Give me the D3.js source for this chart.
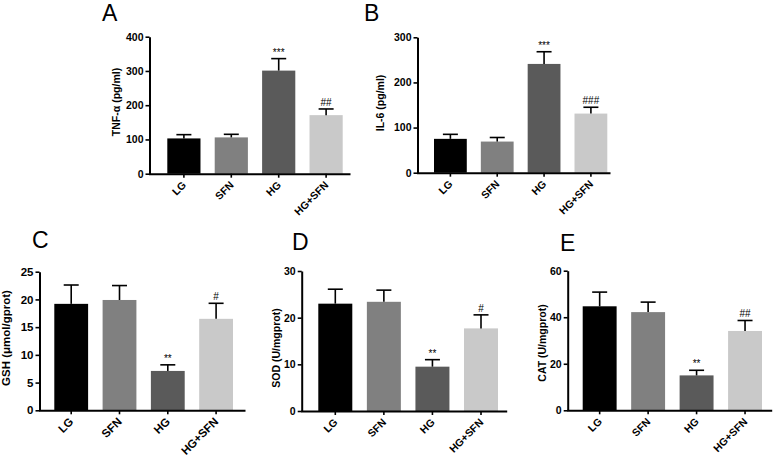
<!DOCTYPE html>
<html>
<head>
<meta charset="utf-8">
<script src="https://cdn.jsdelivr.net/npm/d3@7"></script>
<style>
  html, body { margin: 0; padding: 0; background: #fff; }
  svg { display: block; }
  text { font-family: "Liberation Sans", Arial, sans-serif; }
</style>
</head>
<body>
<svg id="chart" width="779" height="456"></svg>
<script>
// ---- data ----
const categories = ["LG", "SFN", "HG", "HG+SFN"];
const barColors = ["#000000", "#808080", "#5a5a5a", "#c9c9c9"];

const tnfMean = [103, 106, 301, 171];
const tnfErr  = [11, 9, 35, 18];
const il6Mean = [75, 69, 241, 131];
const il6Err  = [10, 9, 27, 14];
const gshMean = [19.2, 19.9, 7.1, 16.5];
const gshErr  = [3.4, 2.6, 1.1, 2.8];
const sodMean = [23.0, 23.4, 9.5, 17.7];
const sodErr  = [3.1, 2.5, 1.5, 2.9];
const catMean = [44.7, 42.2, 15.0, 34.1];
const catErr  = [6.1, 4.3, 2.2, 4.5];

const tnfTicks = [0, 100, 200, 300, 400];
const il6Ticks = [0, 100, 200, 300];
const gshTicks = [0, 5, 10, 15, 20, 25];
const sodTicks = [0, 10, 20, 30];
const catTicks = [0, 20, 40, 60];

const tnfSig = ["", "", "***", "##"];
const il6Sig = ["", "", "***", "###"];
const gshSig = ["", "", "**", "#"];
const sodSig = ["", "", "**", "#"];
const catSig = ["", "", "**", "##"];

// ---- layout ----
const panels = [
  { letter: "A", title: "TNF-\u03b1 (pg/ml)", mean: tnfMean, err: tnfErr, ticks: tnfTicks, sig: tnfSig,
    axisX: 149.5, axisEnd: 350, y0: 173.7, yTop: 36.7, bars: [167.3, 342.7],
    letterX: 102, letterY: 21, titleX: 117, titleY: 102, tickFs: 10.5, titleFs: 10.5 },
  { letter: "B", title: "IL-6 (pg/ml)", mean: il6Mean, err: il6Err, ticks: il6Ticks, sig: il6Sig,
    axisX: 417.5, axisEnd: 610, y0: 172.7, yTop: 37.3, bars: [434, 607.3],
    letterX: 364, letterY: 21, titleX: 381, titleY: 103, tickFs: 10.5, titleFs: 10.5 },
  { letter: "C", title: "GSH (\u03bcmol/gprot)", mean: gshMean, err: gshErr, ticks: gshTicks, sig: gshSig,
    axisX: 39.5, axisEnd: 245, y0: 410.3, yTop: 271.7, bars: [54.3, 233],
    letterX: 32, letterY: 248, titleX: 7, titleY: 338, tickFs: 11.5, titleFs: 11.5 },
  { letter: "D", title: "SOD (U/mgprot)", mean: sodMean, err: sodErr, ticks: sodTicks, sig: sodSig,
    axisX: 301.7, axisEnd: 506.7, y0: 411, yTop: 271, bars: [318.3, 498],
    letterX: 292, letterY: 250, titleX: 277, titleY: 348, tickFs: 10.5, titleFs: 10.5 },
  { letter: "E", title: "CAT (U/mgprot)", mean: catMean, err: catErr, ticks: catTicks, sig: catSig,
    axisX: 567.7, axisEnd: 771.7, y0: 410.3, yTop: 270.7, bars: [582.7, 762],
    letterX: 560, letterY: 251, titleX: 543, titleY: 343, tickFs: 10.5, titleFs: 10.5 }
];

const svg = d3.select("#chart");

panels.forEach(p => {
  const g = svg.append("g");
  const maxV = p.ticks[p.ticks.length - 1];
  const y = d3.scaleLinear().domain([0, maxV]).range([p.y0, p.yTop]);
  const x = d3.scaleBand().domain(categories).range(p.bars).paddingInner(0.3).paddingOuter(0);
  const bw = x.bandwidth();

  // bars
  g.selectAll("rect.bar").data(categories).enter().append("rect")
    .attr("x", d => x(d))
    .attr("y", (d, i) => y(p.mean[i]))
    .attr("width", bw)
    .attr("height", (d, i) => p.y0 - y(p.mean[i]))
    .attr("fill", (d, i) => barColors[i]);

  // error bars (upper only)
  const eg = g.selectAll("g.err").data(categories).enter().append("g");
  eg.append("line")
    .attr("x1", d => x(d) + bw / 2).attr("x2", d => x(d) + bw / 2)
    .attr("y1", (d, i) => y(p.mean[i])).attr("y2", (d, i) => y(p.mean[i] + p.err[i]))
    .attr("stroke", "#000").attr("stroke-width", 1.6);
  eg.append("line")
    .attr("x1", d => x(d) + bw / 2 - 7.5).attr("x2", d => x(d) + bw / 2 + 7.5)
    .attr("y1", (d, i) => y(p.mean[i] + p.err[i])).attr("y2", (d, i) => y(p.mean[i] + p.err[i]))
    .attr("stroke", "#000").attr("stroke-width", 1.6);

  // significance marks
  g.selectAll("text.sig").data(categories).enter().append("text")
    .attr("x", d => x(d) + bw / 2)
    .attr("y", (d, i) => y(p.mean[i] + p.err[i]) - 3)
    .attr("text-anchor", "middle")
    .attr("font-size", 10)
    .attr("fill", "#000")
    .text((d, i) => p.sig[i]);

  // y axis
  const yAxis = d3.axisLeft(y).tickValues(p.ticks).tickSize(4).tickSizeOuter(0).tickPadding(2);
  const ya = g.append("g").attr("transform", `translate(${p.axisX},0)`).call(yAxis);
  ya.select(".domain").attr("stroke", "#000").attr("stroke-width", 2);
  ya.selectAll(".tick line").attr("stroke", "#000").attr("stroke-width", 1.6);
  ya.selectAll(".tick text").attr("font-size", p.tickFs).attr("font-weight", "bold")
    .attr("font-family", "Liberation Sans, Arial, sans-serif").attr("fill", "#000");

  // x axis line
  const xs = d3.scaleLinear().domain([0, 1]).range([p.axisX - 1, p.axisEnd]);
  const xa = g.append("g").attr("transform", `translate(0,${p.y0})`)
    .call(d3.axisBottom(xs).tickValues([]).tickSizeOuter(0));
  xa.select(".domain").attr("stroke", "#000").attr("stroke-width", 2);

  // x category ticks
  const xb = g.append("g").attr("transform", `translate(0,${p.y0})`)
    .call(d3.axisBottom(x).tickSize(4).tickSizeOuter(0).tickFormat(""));
  xb.select(".domain").remove();
  xb.selectAll(".tick line").attr("stroke", "#000").attr("stroke-width", 1.6);

  // category labels, slanted 45 degrees
  g.selectAll("text.xlab").data(categories).enter().append("text")
    .attr("class", "xlab")
    .attr("transform", d => `translate(${x(d) + bw / 2 + 3},${p.y0 + 12}) rotate(-45)`)
    .attr("text-anchor", "end")
    .attr("font-size", p.tickFs).attr("font-weight", "bold")
    .text(d => d);

  // y title
  g.append("text")
    .attr("transform", `translate(${p.titleX},${p.titleY}) rotate(-90)`)
    .attr("text-anchor", "middle")
    .attr("dominant-baseline", "middle")
    .attr("font-size", p.titleFs).attr("font-weight", "bold")
    .text(p.title);

  // panel letter
  g.append("text")
    .attr("x", p.letterX).attr("y", p.letterY)
    .attr("font-size", 23)
    .text(p.letter);
});
</script>
</body>
</html>
